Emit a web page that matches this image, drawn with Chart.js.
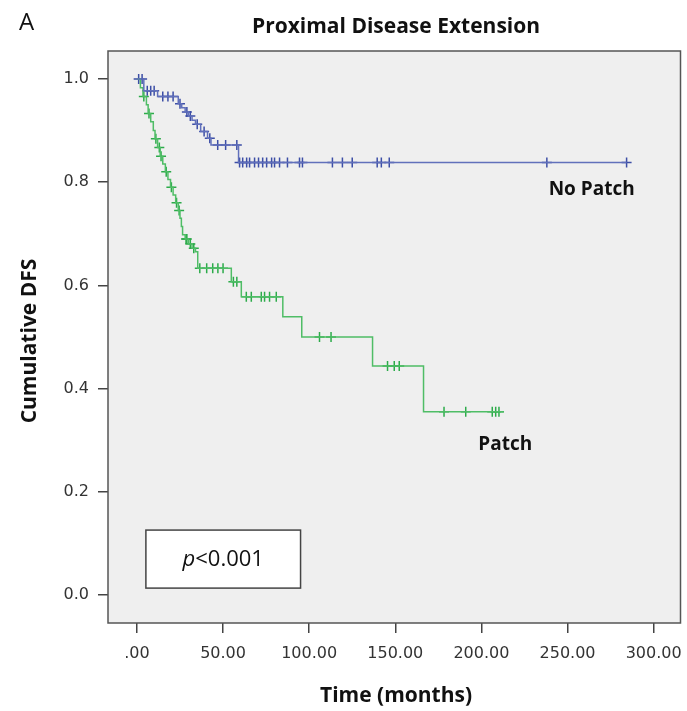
<!DOCTYPE html>
<html>
<head>
<meta charset="utf-8">
<title>Proximal Disease Extension</title>
<script src="https://cdn.jsdelivr.net/npm/chart.js@4"></script>
<style>
  html, body { margin: 0; padding: 0; background: #ffffff; }
  #wrap { width: 687px; height: 711px; position: relative; }
</style>
</head>
<body>
<div id="wrap"><canvas id="kmChart"></canvas></div>
<script>
// Kaplan-Meier steps (time in months, cumulative DFS)
const noPatchTimes = [0, 4, 12, 24, 26, 28, 30, 32, 34, 37, 41, 43, 59, 284.3];
const noPatchSurv = [1.0, 0.977, 0.966, 0.952, 0.944, 0.936, 0.928, 0.920, 0.912, 0.898, 0.885, 0.872, 0.838, 0.838];
const noPatchCensored = [1, 3, 6, 8, 10, 15, 18, 21, 25, 29, 31, 35, 39, 42.3, 46.9, 51.5, 58,
  59.6, 61.4, 63.7, 65.4, 68.3, 70.6, 73, 75.3, 78.2, 79.9, 82.8, 87.4, 94.4, 96.1,
  113.5, 119.3, 125, 139.5, 141.9, 146.5, 238, 284.3];

const patchTimes = [0, 2, 3.5, 5.5, 6.5, 8, 9.5, 10.5, 12, 13.5, 15, 16.5, 18, 19.5, 21, 22.5,
  24, 25, 25.8, 26.5, 28, 30, 32, 34, 35.3, 54.8, 60.6, 84.7, 95.7, 136.8, 166.4, 213];
const patchSurv = [1.0, 0.983, 0.966, 0.95, 0.933, 0.917, 0.9, 0.884, 0.867, 0.85, 0.835, 0.82,
  0.805, 0.79, 0.775, 0.76, 0.745, 0.73, 0.714, 0.698, 0.69, 0.68, 0.672, 0.665, 0.633,
  0.607, 0.578, 0.539, 0.50, 0.444, 0.355, 0.355];
const patchCensored = [4, 7, 11, 13, 14, 17, 20, 23, 24.5, 28.5, 29, 31, 33, 36.5, 40.5, 44, 47, 50,
  56, 58, 63.5, 66.4, 72.2, 74.1, 77, 80.9, 106, 112.7, 145.5, 149.4, 152.3,
  178.3, 190.9, 206.3, 208.3, 210.2];

const xTicks = [0, 50, 100, 150, 200, 250, 300];
const yTicks = [0, 0.2, 0.4, 0.6, 0.8, 1.0];

const groupLabels = ['No Patch', 'Patch'];
const pValueText = '<0.001';

// Colours
const blueLine = '#6170bb';
const blueMark = '#3c4ea6';
const greenLine = '#4fbd66';
const greenMark = '#2cab4a';

// Turn step arrays into {x, y} points
function toPoints(times, surv) {
  return times.map((t, i) => ({ x: t, y: surv[i] }));
}

// Survival value at time t (last step at or before t)
function survAt(times, surv, t) {
  let v = surv[0];
  for (let i = 0; i < times.length; i++) {
    if (times[i] <= t) v = surv[i];
  }
  return v;
}

function censorPoints(times, surv, censored) {
  return censored.map(t => ({ x: t, y: survAt(times, surv, t) }));
}

const tickFont = { family: 'DejaVu Sans', size: 16 };
const titleFont = 'bold 21px "Open Sans"';
const labelFont = 'bold 19px "Open Sans"';

// Background, frame and the extra text of the figure
const decorPlugin = {
  id: 'kmDecor',
  beforeDraw(chart) {
    const { ctx, chartArea } = chart;
    ctx.save();
    ctx.fillStyle = '#efefef';
    ctx.fillRect(chartArea.left, chartArea.top, chartArea.right - chartArea.left, chartArea.bottom - chartArea.top);
    ctx.restore();
  },
  afterDraw(chart) {
    const { ctx, chartArea, scales } = chart;
    const xs = scales.x, ys = scales.y;
    ctx.save();

    // frame
    ctx.strokeStyle = '#555555';
    ctx.lineWidth = 1.5;
    ctx.strokeRect(chartArea.left, chartArea.top, chartArea.right - chartArea.left, chartArea.bottom - chartArea.top);

    // panel letter and title
    ctx.fillStyle = '#111111';
    ctx.textBaseline = 'middle';
    ctx.textAlign = 'left';
    ctx.font = '24px "Open Sans"';
    ctx.fillText('A', 19, 23);
    ctx.textAlign = 'center';
    ctx.font = titleFont;
    ctx.fillText('Proximal Disease Extension', 396, 27);

    // axis titles
    ctx.fillText('Time (months)', 396, 696);
    ctx.save();
    ctx.translate(30, 341);
    ctx.rotate(-Math.PI / 2);
    ctx.fillText('Cumulative DFS', 0, 0);
    ctx.restore();

    // group labels
    ctx.font = labelFont;
    ctx.textAlign = 'right';
    ctx.fillText(groupLabels[0], xs.getPixelForValue(289), ys.getPixelForValue(0.785));
    ctx.fillText(groupLabels[1], xs.getPixelForValue(229.5), ys.getPixelForValue(0.291));

    // p-value box
    const bx1 = xs.getPixelForValue(5.2), bx2 = xs.getPixelForValue(95);
    const by1 = ys.getPixelForValue(0.126), by2 = ys.getPixelForValue(0.0136);
    ctx.fillStyle = '#ffffff';
    ctx.fillRect(bx1, by1, bx2 - bx1, by2 - by1);
    ctx.strokeStyle = '#444444';
    ctx.lineWidth = 1.5;
    ctx.strokeRect(bx1, by1, bx2 - bx1, by2 - by1);

    ctx.fillStyle = '#111111';
    ctx.font = 'italic 22px "Open Sans"';
    const pW = ctx.measureText('p').width;
    ctx.font = '22px "Open Sans"';
    const restW = ctx.measureText(pValueText).width;
    const startX = (bx1 + bx2) / 2 - (pW + restW) / 2;
    const midY = (by1 + by2) / 2 + 1;
    ctx.textAlign = 'left';
    ctx.font = 'italic 22px "Open Sans"';
    ctx.fillText('p', startX, midY);
    ctx.font = '22px "Open Sans"';
    ctx.fillText(pValueText, startX + pW, midY);

    ctx.restore();
  }
};

const ctx = document.getElementById('kmChart').getContext('2d');
new Chart(ctx, {
  type: 'scatter',
  data: {
    datasets: [
      {
        label: groupLabels[0],
        data: toPoints(noPatchTimes, noPatchSurv),
        showLine: true,
        stepped: 'before',
        borderColor: blueLine,
        borderWidth: 1.5,
        pointRadius: 0,
        fill: false
      },
      {
        label: groupLabels[1],
        data: toPoints(patchTimes, patchSurv),
        showLine: true,
        stepped: 'before',
        borderColor: greenLine,
        borderWidth: 1.5,
        pointRadius: 0,
        fill: false
      },
      {
        label: groupLabels[0] + ' censored',
        data: censorPoints(noPatchTimes, noPatchSurv, noPatchCensored),
        showLine: false,
        pointStyle: 'cross',
        pointRadius: 5,
        borderWidth: 1.5,
        borderColor: blueMark
      },
      {
        label: groupLabels[1] + ' censored',
        data: censorPoints(patchTimes, patchSurv, patchCensored),
        showLine: false,
        pointStyle: 'cross',
        pointRadius: 5,
        borderWidth: 1.5,
        borderColor: greenMark
      }
    ]
  },
  options: {
    responsive: true,
    maintainAspectRatio: false,
    animation: false,
    layout: { padding: { top: 51, right: 5, left: 0, bottom: 0 } },
    plugins: {
      legend: { display: false },
      tooltip: { enabled: false }
    },
    scales: {
      x: {
        type: 'linear',
        min: -16.8,
        max: 315.6,
        afterBuildTicks: (scale) => { scale.ticks = xTicks.map(v => ({ value: v })); },
        afterFit: (scale) => {
          scale.height = 88;
          // the 300.00 label may hang past the frame, don't shrink the plot for it
          scale.paddingLeft = 0;
          scale.paddingRight = 0;
        },
        ticks: {
          font: tickFont,
          color: '#333333',
          padding: 11,
          maxRotation: 0,
          autoSkip: false,
          callback: (v) => v === 0 ? '.00' : v.toFixed(2)
        },
        grid: { drawOnChartArea: false, tickLength: 10, color: '#444444', lineWidth: 1.5 },
        border: { display: false }
      },
      y: {
        type: 'linear',
        min: -0.054,
        max: 1.054,
        afterBuildTicks: (scale) => { scale.ticks = yTicks.map(v => ({ value: v })); },
        afterFit: (scale) => {
          scale.width = 108;
          scale.paddingTop = 0;
          scale.paddingBottom = 0;
        },
        ticks: {
          font: tickFont,
          color: '#333333',
          padding: 9,
          autoSkip: false,
          callback: (v) => v.toFixed(1)
        },
        grid: { drawOnChartArea: false, tickLength: 10, color: '#444444', lineWidth: 1.5 },
        border: { display: false }
      }
    }
  },
  plugins: [decorPlugin]
});
</script>
</body>
</html>
